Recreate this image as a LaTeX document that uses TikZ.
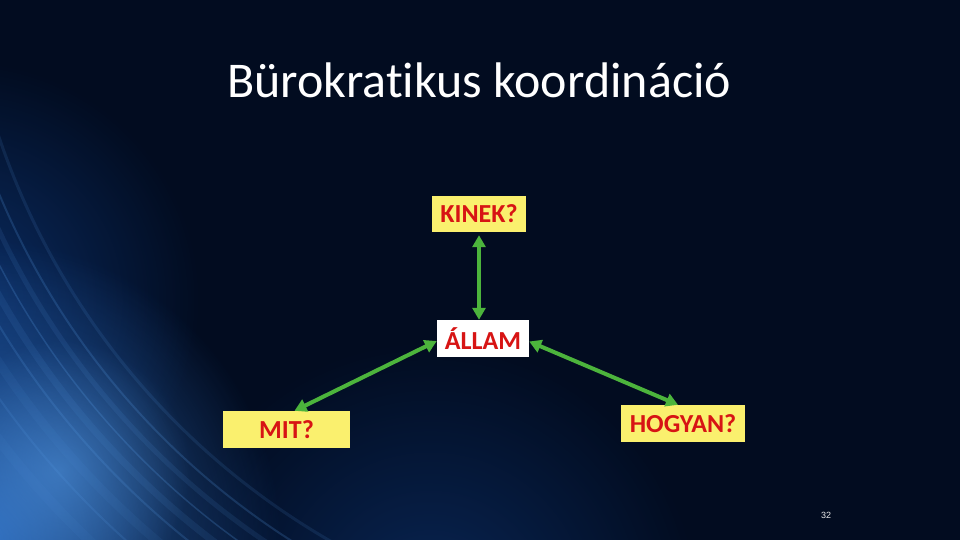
\documentclass[tikz,border=0pt]{standalone}
\usepackage{fontspec}
\setmainfont[Ligatures=NoCommon]{Carlito}
\newfontfamily\numfont{Liberation Sans}
\usetikzlibrary{arrows.meta,fadings}
\definecolor{bg}{RGB}{2,12,32}
\definecolor{glowblue}{RGB}{50,120,210}
\definecolor{lightblue}{RGB}{90,160,235}
\definecolor{deepblue}{RGB}{15,60,130}
\definecolor{boxyellow}{RGB}{250,240,110}
\definecolor{labelred}{RGB}{215,20,20}
\definecolor{arrowgreen}{RGB}{76,180,60}
\tikzfading[name=glowfade, inner color=transparent!0, outer color=transparent!100]
\tikzset{
  qbox/.style={fill=boxyellow, inner sep=0pt, text=labelred, font=\bfseries\fontsize{26}{28}\selectfont},
  statebox/.style={qbox, fill=white},
  link/.style={draw=arrowgreen, line width=4pt,
    {Triangle[width=13pt,length=12pt]}-{Triangle[width=13pt,length=12pt]}},
  streak/.style={draw=lightblue, opacity=#1}
}
\begin{document}
\begin{tikzpicture}[x=1pt,y=-1pt]
\useasboundingbox (0,0) rectangle (960,540);
\fill[bg] (0,0) rectangle (960,540);
\begin{scope}
\clip (0,0) rectangle (960,540);
\fill[deepblue, path fading=glowfade, opacity=0.7] (-40,300) circle (240);
\fill[glowblue, path fading=glowfade, opacity=0.9] (-20,540) circle (300);
\fill[deepblue, path fading=glowfade, opacity=0.55] (430,610) circle (270);
\fill[lightblue, path fading=glowfade, opacity=0.5] (60,470) circle (130);
\begin{scope}[transparency group, scope fading=glowfade, fit fading=false,
  fading transform={xshift=0pt, yshift=-540pt, scale=7}]
\foreach \r/\o/\w in {740/0.12/3, 760/0.2/2, 775/0.11/5, 790/0.22/1.5, 805/0.1/7, 820/0.18/2, 840/0.07/9, 860/0.14/2, 885/0.06/10}
  \draw[streak=\o, line width=\w pt] (700,-100) ++(200:\r) arc[start angle=200, end angle=100, radius=\r];
\end{scope}
\end{scope}

\node[text=white, font=\fontsize{50}{54}\selectfont] (title) at (479,80) {Bürokratikus koordináció};

\node[qbox, minimum width=94pt, minimum height=36pt] (kinek) at (479,214) {KINEK?};
\node[statebox, minimum width=92pt, minimum height=37pt] (allam) at (483,338.5) {ÁLLAM};
\node[qbox, minimum width=127pt, minimum height=37pt] (mit) at (286.5,429.5) {MIT?};
\node[qbox, minimum width=124pt, minimum height=37pt] (hogyan) at (683,423.5) {HOGYAN?};

\draw[link, shorten <=3pt] (kinek.south) -- (kinek.south |- allam.north);
\draw[link] ([yshift=-2.5pt]allam.west) -- ([xshift=8pt]mit.north);
\draw[link] ([yshift=-3pt]allam.east) -- ([xshift=-5pt]hogyan.north);

\node[text=white!85!gray, font=\numfont\fontsize{9}{10}\selectfont] (page) at (826,515) {32};
\end{tikzpicture}
\end{document}
